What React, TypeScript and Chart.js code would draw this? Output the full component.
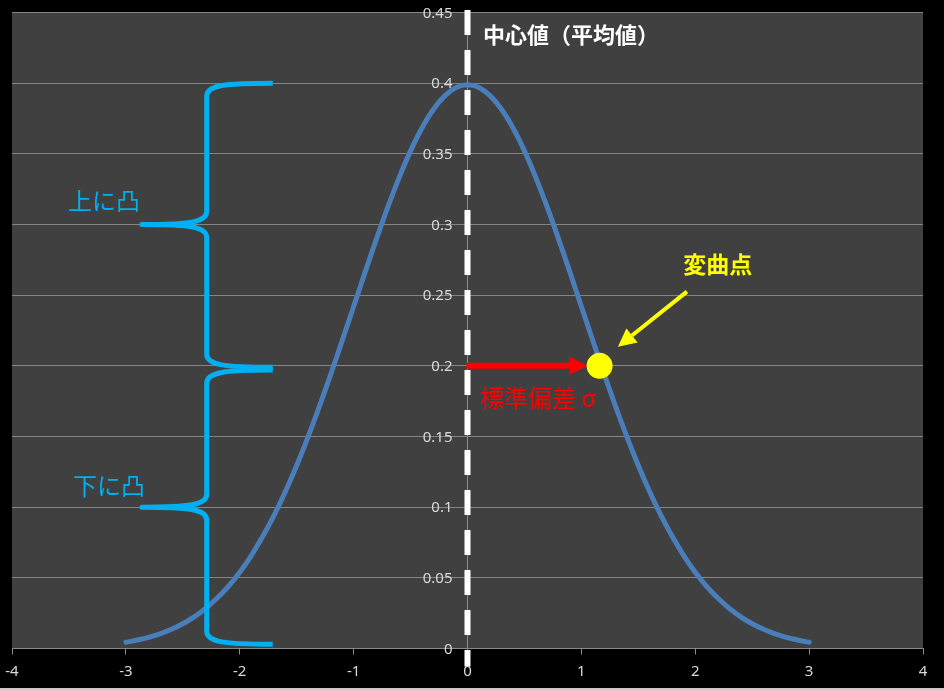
import React, { useEffect, useRef } from "react";
import Chart from "chart.js/auto";

// Standard normal density, read at steps of 0.1 from -3 to 3
const xValues = [
  -3.0, -2.9, -2.8, -2.7, -2.6, -2.5, -2.4, -2.3, -2.2, -2.1,
  -2.0, -1.9, -1.8, -1.7, -1.6, -1.5, -1.4, -1.3, -1.2, -1.1,
  -1.0, -0.9, -0.8, -0.7, -0.6, -0.5, -0.4, -0.3, -0.2, -0.1,
  0.0,
  0.1, 0.2, 0.3, 0.4, 0.5, 0.6, 0.7, 0.8, 0.9, 1.0,
  1.1, 1.2, 1.3, 1.4, 1.5, 1.6, 1.7, 1.8, 1.9, 2.0,
  2.1, 2.2, 2.3, 2.4, 2.5, 2.6, 2.7, 2.8, 2.9, 3.0,
];
const densityValues = [
  0.0044, 0.006, 0.0079, 0.0104, 0.0136, 0.0175, 0.0224, 0.0283, 0.0355, 0.044,
  0.054, 0.0656, 0.079, 0.094, 0.1109, 0.1295, 0.1497, 0.1714, 0.1942, 0.2179,
  0.242, 0.2661, 0.2897, 0.3123, 0.3332, 0.3521, 0.3683, 0.3814, 0.391, 0.397,
  0.3989,
  0.397, 0.391, 0.3814, 0.3683, 0.3521, 0.3332, 0.3123, 0.2897, 0.2661, 0.242,
  0.2179, 0.1942, 0.1714, 0.1497, 0.1295, 0.1109, 0.094, 0.079, 0.0656, 0.054,
  0.044, 0.0355, 0.0283, 0.0224, 0.0175, 0.0136, 0.0104, 0.0079, 0.006, 0.0044,
];
const xTicks = [-4, -3, -2, -1, 0, 1, 2, 3, 4];
const yTicks = [0, 0.05, 0.1, 0.15, 0.2, 0.25, 0.3, 0.35, 0.4, 0.45];

// Annotation texts
const centerLabel = "中心値（平均値）";
const inflectionLabel = "変曲点";
const sigmaLabel = "標準偏差 σ";
const concaveDownLabel = "上に凸";
const concaveUpLabel = "下に凸";
const inflectionPoint = { x: 1.16, y: 0.2 };

const CJK = '"Noto Sans CJK JP", "Noto Sans", sans-serif';
const TICK_FONT = '15px "Noto Sans", sans-serif';
const fmtY = (v: number) => String(Math.round(v * 100) / 100);

const backgroundPlugin = {
  id: "bg",
  beforeDraw(chart: any) {
    const { ctx, chartArea, width, height } = chart;
    ctx.save();
    ctx.fillStyle = "#000000";
    ctx.fillRect(0, 0, width, height);
    ctx.fillStyle = "#404040";
    ctx.fillRect(chartArea.left, chartArea.top, chartArea.right - chartArea.left, chartArea.bottom - chartArea.top);
    ctx.fillStyle = "#c8c8c8";
    ctx.fillRect(0, height - 2, width, 2);
    ctx.restore();
  },
};

const annotationPlugin = {
  id: "notes",
  afterDatasetsDraw(chart: any) {
    const { ctx, scales } = chart;
    const X = (v: number) => scales.x.getPixelForValue(v);
    const Y = (v: number) => scales.y.getPixelForValue(v);
    ctx.save();

    // y tick labels, placed left of the axis at x = 0
    ctx.font = TICK_FONT;
    ctx.fillStyle = "#d9d9d9";
    ctx.textAlign = "right";
    ctx.textBaseline = "middle";
    for (const t of scales.y.ticks) {
      ctx.fillText(fmtY(t.value), X(0) - 15, Y(t.value) + 1);
    }

    // braces
    const drawBrace = (top: number, tip: number, bottom: number) => {
      const xe = X(-1.71), xb = X(-2.29), xt = X(-2.86);
      const yA = Y(top), yT = Y(tip), yB = Y(bottom);
      const r = 13;
      ctx.beginPath();
      ctx.moveTo(xe, yA);
      ctx.bezierCurveTo(xb + 18, yA, xb, yA + 2, xb, yA + r);
      ctx.lineTo(xb, yT - r);
      ctx.bezierCurveTo(xb, yT - 2, xb - 18, yT, xt, yT);
      ctx.bezierCurveTo(xb - 18, yT, xb, yT + 2, xb, yT + r);
      ctx.lineTo(xb, yB - r);
      ctx.bezierCurveTo(xb, yB - 2, xb + 18, yB, xe, yB);
      ctx.strokeStyle = "#00b0f0";
      ctx.lineWidth = 5;
      ctx.lineJoin = "round";
      ctx.stroke();
    };
    drawBrace(0.4, 0.3, 0.199);
    drawBrace(0.197, 0.1, 0.003);

    // dashed center line
    ctx.beginPath();
    ctx.setLineDash([25, 15]);
    ctx.moveTo(X(0), chart.chartArea.top - 2.5);
    ctx.lineTo(X(0), chart.chartArea.bottom + 18);
    ctx.strokeStyle = "#ffffff";
    ctx.lineWidth = 6;
    ctx.stroke();
    ctx.setLineDash([]);

    // red arrow
    const cx = X(inflectionPoint.x), cy = Y(inflectionPoint.y);
    const rad = 13;
    const tipX = cx - rad + 1;
    ctx.beginPath();
    ctx.moveTo(X(0) - 1, cy);
    ctx.lineTo(tipX - 14, cy);
    ctx.strokeStyle = "#ff0000";
    ctx.lineWidth = 6;
    ctx.stroke();
    ctx.beginPath();
    ctx.moveTo(tipX, cy);
    ctx.lineTo(tipX - 18, cy - 9);
    ctx.lineTo(tipX - 18, cy + 9);
    ctx.closePath();
    ctx.fillStyle = "#ff0000";
    ctx.fill();

    // inflection point
    ctx.beginPath();
    ctx.arc(cx, cy, rad, 0, Math.PI * 2);
    ctx.fillStyle = "#ffff00";
    ctx.fill();

    // yellow arrow
    const sx = X(1.927), sy = Y(0.2525), ex = X(1.321), ey = Y(0.2135);
    const ang = Math.atan2(ey - sy, ex - sx);
    const headLen = 18, headW = 9;
    const bx = ex - headLen * Math.cos(ang), by = ey - headLen * Math.sin(ang);
    ctx.beginPath();
    ctx.moveTo(sx, sy);
    ctx.lineTo(bx, by);
    ctx.strokeStyle = "#ffff00";
    ctx.lineWidth = 4;
    ctx.stroke();
    ctx.beginPath();
    ctx.moveTo(ex, ey);
    ctx.lineTo(bx + headW * Math.sin(ang), by - headW * Math.cos(ang));
    ctx.lineTo(bx - headW * Math.sin(ang), by + headW * Math.cos(ang));
    ctx.closePath();
    ctx.fillStyle = "#ffff00";
    ctx.fill();

    // texts
    ctx.textBaseline = "middle";
    ctx.textAlign = "left";
    ctx.fillStyle = "#ffffff";
    ctx.font = `bold 22px ${CJK}`;
    ctx.fillText(centerLabel, X(0.136), Y(0.434));
    ctx.fillStyle = "#ffff00";
    ctx.font = `bold 23px ${CJK}`;
    ctx.fillText(inflectionLabel, X(1.895), Y(0.2716));
    ctx.fillStyle = "#ff0000";
    ctx.font = `24px ${CJK}`;
    ctx.fillText(sigmaLabel, X(0.11), Y(0.1774));
    ctx.fillStyle = "#00b0f0";
    ctx.font = `24px ${CJK}`;
    ctx.fillText(concaveDownLabel, X(-3.508), Y(0.317));
    ctx.fillText(concaveUpLabel, X(-3.464), Y(0.115));

    ctx.restore();
  },
};

export default function App() {
  const ref = useRef<HTMLCanvasElement>(null);
  useEffect(() => {
    if (!ref.current) return;
    const chart = new Chart(ref.current, {
      type: "line",
      data: {
        datasets: [
          {
            data: xValues.map((x, i) => ({ x, y: densityValues[i] })),
            borderColor: "#4a7ebb",
            borderWidth: 5,
            pointRadius: 0,
            tension: 0.3,
            borderCapStyle: "round",
            fill: false,
          },
        ],
      },
      options: {
        animation: false,
        responsive: false,
        devicePixelRatio: 1,
        layout: { padding: { left: 12, right: 21, top: 12.5, bottom: 0 } },
        plugins: { legend: { display: false }, tooltip: { enabled: false } },
        scales: {
          x: {
            type: "linear",
            min: -4,
            max: 4,
            afterBuildTicks: (s: any) => {
              s.ticks = xTicks.map((v) => ({ value: v }));
            },
            afterFit: (s: any) => {
              s.height = 41.5;
              s.paddingLeft = 0;
              s.paddingRight = 0;
            },
            ticks: {
              color: "#d9d9d9",
              font: { family: '"Noto Sans", sans-serif', size: 15, lineHeight: 1 },
              padding: 10,
              maxRotation: 0,
              callback: (v: any) => String(v),
            },
            grid: { drawOnChartArea: false, drawTicks: true, tickLength: 6, color: "#8a8a8a" },
            border: { color: "#8a8a8a", width: 1 },
          },
          y: {
            type: "linear",
            min: 0,
            max: 0.45,
            position: { x: 0 } as any,
            afterBuildTicks: (s: any) => {
              s.ticks = yTicks.map((v) => ({ value: v }));
            },
            ticks: { display: false },
            grid: { color: "#858585", drawTicks: false, lineWidth: 1 },
            border: { color: "#8a8a8a", width: 1 },
          },
        },
      },
      plugins: [backgroundPlugin, annotationPlugin],
    } as any);
    return () => chart.destroy();
  }, []);
  return (
    <div style={{ position: "fixed", left: 0, top: 0, width: 944, height: 690, background: "#000" }}>
      <canvas ref={ref} width={944} height={690} style={{ display: "block" }} />
    </div>
  );
}
